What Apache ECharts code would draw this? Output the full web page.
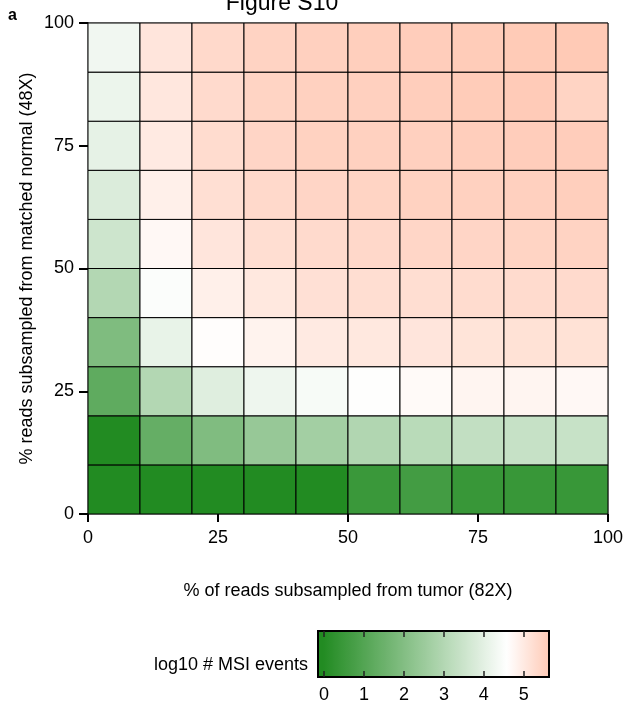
<!DOCTYPE html>
<html><head><meta charset="utf-8">
<script src="https://cdn.jsdelivr.net/npm/echarts@6/dist/echarts.min.js"></script>
<style>html,body{margin:0;padding:0;background:#fff}#c{width:626px;height:706px}</style>
</head><body><div id="c"></div>
<script>
// cell left/bottom edges (% subsampled)
const tumorPct = [0, 10, 20, 30, 40, 50, 60, 70, 80, 90];
const normalPct = [0, 10, 20, 30, 40, 50, 60, 70, 80, 90];
const cellStep = 10;
const axisTicks = [0, 25, 50, 75, 100];
const legendTicks = [0, 1, 2, 3, 4, 5];
const legendMin = -0.15, legendMax = 5.63;

// log10 # MSI events, one array per matched-normal level (columns = tumor %)
const logMSI_n0  = [0.00, 0.00, 0.00, 0.00, 0.00, 0.50, 0.68, 0.45, 0.45, 0.45];
const logMSI_n10 = [0.00, 1.38, 1.94, 2.41, 2.66, 2.95, 3.12, 3.30, 3.38, 3.41];
const logMSI_n20 = [1.26, 2.99, 3.90, 4.21, 4.40, 4.56, 4.66, 4.76, 4.76, 4.70];
const logMSI_n30 = [1.92, 4.09, 4.60, 4.80, 4.98, 5.02, 5.07, 5.11, 5.15, 5.15];
const logMSI_n40 = [2.99, 4.48, 4.86, 5.02, 5.17, 5.21, 5.21, 5.25, 5.27, 5.29];
const logMSI_n50 = [3.53, 4.70, 5.07, 5.21, 5.29, 5.33, 5.37, 5.39, 5.41, 5.43];
const logMSI_n60 = [3.82, 4.86, 5.19, 5.31, 5.39, 5.41, 5.45, 5.47, 5.49, 5.51];
const logMSI_n70 = [4.04, 4.98, 5.25, 5.39, 5.45, 5.47, 5.49, 5.53, 5.55, 5.55];
const logMSI_n80 = [4.17, 5.04, 5.29, 5.41, 5.47, 5.49, 5.53, 5.57, 5.59, 5.42];
const logMSI_n90 = [4.27, 5.07, 5.31, 5.43, 5.49, 5.51, 5.55, 5.57, 5.60, 5.62];
const rows = [logMSI_n0, logMSI_n10, logMSI_n20, logMSI_n30, logMSI_n40,
              logMSI_n50, logMSI_n60, logMSI_n70, logMSI_n80, logMSI_n90];

// colour scale stops (value -> colour)
const colorStops = [
  [-0.15, [34, 139, 34]],
  [0.00, [34, 139, 34]],
  [4.56, [255, 255, 255]],
  [5.63, [255, 201, 181]]
];
function colorAt(v) {
  for (let i = 1; i < colorStops.length; i++) {
    const [v1, c1] = colorStops[i];
    const [v0, c0] = colorStops[i - 1];
    if (v <= v1) {
      const t = v1 === v0 ? 0 : (v - v0) / (v1 - v0);
      const c = c0.map((x, k) => Math.round(x + (c1[k] - x) * t));
      return 'rgb(' + c.join(',') + ')';
    }
  }
  const c = colorStops[colorStops.length - 1][1];
  return 'rgb(' + c.join(',') + ')';
}
const NS = 80;
const rampColors = [];
for (let i = 0; i <= NS; i++) rampColors.push(colorAt(legendMin + (legendMax - legendMin) * i / NS));
const gradStops = rampColors.map((c, i) => ({ offset: i / NS, color: c }));

const cells = [];
normalPct.forEach((ny, r) => tumorPct.forEach((tx, c) => cells.push([tx, ny, rows[r][c]])));

const FONT = "'Liberation Sans', Arial, Helvetica, sans-serif";
const chart = echarts.init(document.getElementById('c'), null, { renderer: 'canvas' });
chart.setOption({
  animation: false,
  backgroundColor: '#fff',
  textStyle: { fontFamily: FONT, color: '#000' },
  grid: [
    { left: 88, top: 23, width: 522, height: 491, show: true, borderColor: '#555', borderWidth: 1 },
    { left: 318, top: 631, width: 231, height: 46 }
  ],
  xAxis: [
    {
      gridIndex: 0, type: 'value', min: 0, max: 100, interval: 25, offset: 3,
      axisLine: { show: false },
      axisTick: { show: true, length: 8, lineStyle: { color: '#000', width: 2 } },
      axisLabel: { fontSize: 18, color: '#000', margin: 12, fontFamily: FONT },
      splitLine: { show: false },
      name: '% of reads subsampled from tumor (82X)', nameLocation: 'middle', nameGap: 65,
      nameTextStyle: { fontSize: 18, color: '#000', fontFamily: FONT }
    },
    {
      gridIndex: 1, type: 'value', min: legendMin, max: legendMax, z: 10,
      axisLine: { show: false },
      axisTick: { show: true, inside: true, length: 6, customValues: legendTicks, lineStyle: { color: '#222', width: 1.5 } },
      axisLabel: { fontSize: 18, color: '#000', margin: 9, customValues: legendTicks, fontFamily: FONT },
      splitLine: { show: false }
    },
    {
      gridIndex: 1, type: 'value', position: 'top', min: legendMin, max: legendMax, z: 10,
      axisLine: { show: false },
      axisTick: { show: true, inside: true, length: 6, customValues: legendTicks, lineStyle: { color: '#222', width: 1.5 } },
      axisLabel: { show: false },
      splitLine: { show: false }
    }
  ],
  yAxis: [
    {
      gridIndex: 0, type: 'value', min: 0, max: 100, interval: 25,
      axisLine: { show: true, lineStyle: { color: '#000', width: 1 } },
      axisTick: { show: true, length: 9, lineStyle: { color: '#000', width: 2 } },
      axisLabel: { fontSize: 18, color: '#000', margin: 14, fontFamily: FONT },
      splitLine: { show: false },
      name: '% reads subsampled from matched normal (48X)', nameLocation: 'middle', nameGap: 52, nameRotate: 90,
      nameMoveOverlap: false,
      nameTextStyle: { fontSize: 18, color: '#000', fontFamily: FONT }
    },
    { gridIndex: 1, type: 'value', min: 0, max: 1, show: false }
  ],
  visualMap: {
    type: 'continuous', show: false, seriesIndex: 0, dimension: 2,
    min: legendMin, max: legendMax, inRange: { color: rampColors }
  },
  series: [
    {
      type: 'custom', xAxisIndex: 0, yAxisIndex: 0, data: cells,
      encode: { x: 0, y: 1 },
      renderItem: function (params, api) {
        const x = api.value(0), y = api.value(1);
        const p0 = api.coord([x, y + cellStep]);
        const p1 = api.coord([x + cellStep, y]);
        return {
          type: 'rect',
          shape: { x: p0[0], y: p0[1], width: p1[0] - p0[0], height: p1[1] - p0[1] },
          style: { fill: api.visual('color'), stroke: '#000', lineWidth: 1 }
        };
      }
    },
    {
      type: 'custom', xAxisIndex: 1, yAxisIndex: 1, data: [[legendMin, legendMax]],
      renderItem: function (params, api) {
        const p0 = api.coord([api.value(0), 1]);
        const p1 = api.coord([api.value(1), 0]);
        return {
          type: 'rect',
          shape: { x: p0[0], y: p0[1], width: p1[0] - p0[0], height: p1[1] - p0[1] },
          style: {
            fill: { type: 'linear', x: 0, y: 0, x2: 1, y2: 0, colorStops: gradStops },
            stroke: '#000', lineWidth: 2
          }
        };
      }
    }
  ],
  graphic: [
    { type: 'text', x: 282, y: 4, style: { text: 'Figure S10', fontSize: 23, fontFamily: FONT, fill: '#000', align: 'center', verticalAlign: 'middle' } },
    { type: 'text', x: 8, y: 16, style: { text: 'a', fontSize: 16, fontWeight: 'bold', fontFamily: FONT, fill: '#000', verticalAlign: 'middle' } },
    { type: 'text', x: 308, y: 665, style: { text: 'log10 # MSI events', fontSize: 18, fontFamily: FONT, fill: '#000', align: 'right', verticalAlign: 'middle' } }
  ]
});
</script>
</body></html>
